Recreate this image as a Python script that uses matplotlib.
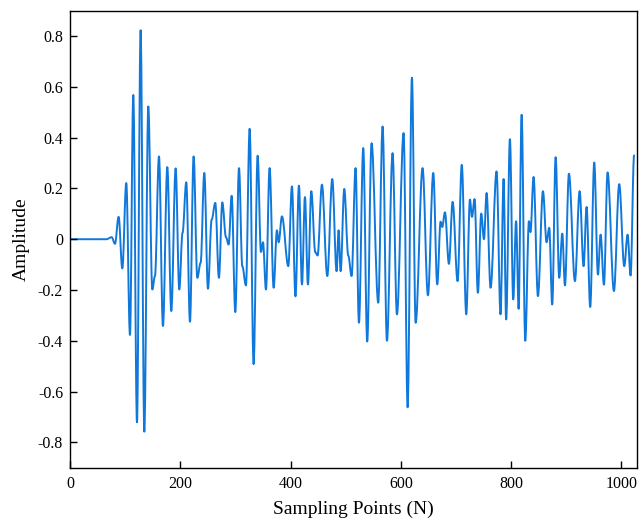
import matplotlib
matplotlib.use("Agg")
import matplotlib.pyplot as plt
from matplotlib.path import Path
from matplotlib.patches import PathPatch

# Sample index of each turning point
sample_n = [0, 66, 75.6, 81.6, 88.2, 94.9, 102.1, 108.8, 114.8, 121.5, 128.1, 134.8,
            142.0, 149.3, 154.1, 161.4, 168.6, 176.5, 183.7, 191.6, 198.2, 204.1,
            210.9, 217.6, 224.2, 230.9, 236.9, 243.6, 250.2, 256.9, 263.5, 270.1,
            276.2, 282.9, 287.7, 293.2, 299.8, 306.5, 312.5, 319.1, 325.8, 333.0,
            340.3, 346.3, 350.0, 355.4, 362.0, 369.3, 375.3, 378.4, 384.4, 395.9,
            402.5, 408.9, 415.2, 420.7, 426.1, 431.5, 437.6, 444.8, 449.0, 456.9,
            466.6, 475.6, 483.5, 487.1, 490.8, 497.4, 504.6, 510.7, 517.9, 524.0,
            531.8, 539.0, 546.9, 559.0, 566.9, 574.8, 585.0, 592.9, 605.0, 612.3,
            620.1, 626.8, 639.4, 649.1, 658.8, 666.0, 672.1, 675.0, 680.0, 687.2,
            693.9, 702.9, 710.5, 718.6, 725.3, 729.0, 733.7, 739.7, 745.8, 750.7,
            755.5, 762.7, 773.6, 780.8, 786.3, 791.0, 797.8, 803.8, 809.0, 813.6,
            819.0, 825.6, 832.3, 835.0, 840.7, 848.6, 857.7, 864.3, 869.1, 874.5,
            880.7, 887.2, 892.7, 897.6, 904.8, 915.7, 924.2, 931.4, 936.8, 943.4,
            950.7, 957.4, 962.2, 968.3, 974.9, 986.4, 996.0, 1005.1, 1011.2, 1016.6,
            1023.0]

# Amplitude at each turning point
amplitude = [0, 0, 0.008, -0.018, 0.088, -0.115, 0.221, -0.377, 0.568, -0.721, 0.823, -0.758,
             0.523, -0.198, -0.145, 0.326, -0.342, 0.284, -0.283, 0.279, -0.198, 0.025,
             0.224, -0.325, 0.326, -0.152, -0.093, 0.261, -0.195, 0.077, 0.143, -0.152,
             0.145, 0.008, -0.021, 0.171, -0.287, 0.280, -0.106, -0.182, 0.435, -0.492,
             0.329, -0.050, -0.012, -0.198, 0.280, -0.191, 0.035, -0.012, 0.090, -0.106,
             0.208, -0.225, 0.211, -0.178, 0.166, -0.178, 0.189, -0.051, -0.064, 0.215,
             -0.145, 0.237, -0.126, 0.035, -0.126, 0.198, -0.064, -0.145, 0.280, -0.329,
             0.359, -0.403, 0.378, -0.250, 0.444, -0.400, 0.339, -0.296, 0.418, -0.662,
             0.636, -0.329, 0.280, -0.221, 0.261, -0.178, 0.069, 0.048, 0.106, -0.097,
             0.147, -0.165, 0.293, -0.296, 0.156, 0.088, 0.158, -0.211, 0.101, 0.000,
             0.182, -0.191, 0.267, -0.296, 0.237, -0.316, 0.394, -0.237, 0.071, -0.274,
             0.490, -0.400, 0.071, 0.028, 0.245, -0.224, 0.189, -0.012, 0.045, -0.257,
             0.323, -0.152, 0.022, -0.182, 0.258, -0.165, 0.189, -0.106, 0.127, -0.267,
             0.302, -0.139, 0.018, -0.179, 0.263, -0.204, 0.217, -0.106, 0.018, -0.143,
             0.330]

x_ticks = [0, 200, 400, 600, 800, 1000]
y_ticks = [-0.8, -0.6, -0.4, -0.2, 0, 0.2, 0.4, 0.6, 0.8]
y_tick_labels = ["-0.8", "-0.6", "-0.4", "-0.2", "0", "0.2", "0.4", "0.6", "0.8"]

plt.rcParams['font.family'] = ['Liberation Serif', 'DejaVu Serif']

fig = plt.figure(figsize=(6.42, 5.31), dpi=100)
ax = fig.add_axes([0.109, 0.1192, 0.883, 0.8606])

# smooth curve through the turning points (horizontal tangents at each)
verts = [(sample_n[0], amplitude[0])]
codes = [Path.MOVETO]
c = 0.364
for i in range(1, len(sample_n)):
    x0, y0 = sample_n[i - 1], amplitude[i - 1]
    x1, y1 = sample_n[i], amplitude[i]
    dx = x1 - x0
    verts += [(x0 + c * dx, y0), (x1 - c * dx, y1), (x1, y1)]
    codes += [Path.CURVE4] * 3
patch = PathPatch(Path(verts, codes), facecolor='none', edgecolor='#0F78DA',
                  linewidth=1.4, capstyle='round', joinstyle='round')
ax.add_patch(patch)

ax.set_xlim(0, 1028)
ax.set_ylim(-0.9, 0.9)
ax.set_xticks(x_ticks)
ax.set_yticks(y_ticks)
ax.set_yticklabels(y_tick_labels)
ax.tick_params(direction='in', length=5, width=1.0, labelsize=11.5,
               top=False, right=False)
ax.tick_params(axis='x', pad=6)
ax.tick_params(axis='y', pad=5)
for s in ax.spines.values():
    s.set_linewidth(1.0)
ax.set_xlabel("Sampling Points (N)", fontsize=14, labelpad=6)
ax.set_ylabel("Amplitude", fontsize=14, labelpad=6)

fig.savefig("out.png", dpi=100)
